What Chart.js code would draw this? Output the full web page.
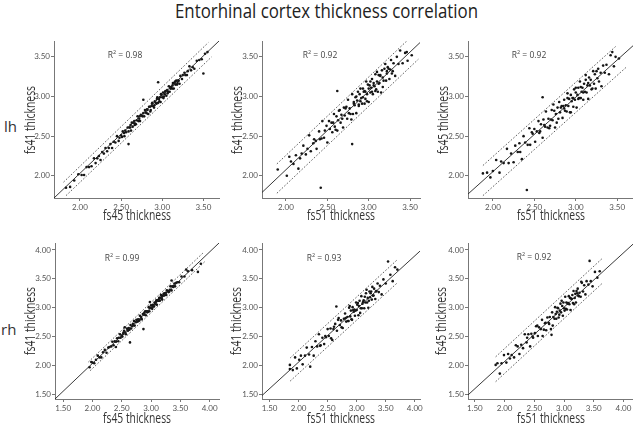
<!DOCTYPE html>
<html><head><meta charset="utf-8">
<script src="https://cdn.jsdelivr.net/npm/chart.js@4/dist/chart.umd.min.js"></script>
<style>
html,body{margin:0;padding:0;background:#fff;overflow:hidden;width:633px;height:426px;}
#wrap{position:relative;width:633px;height:426px;overflow:hidden;}
canvas{position:absolute;}
.txt{position:absolute;font-family:"Open Sans",sans-serif;color:#333;white-space:nowrap;line-height:1;}
.r2{font-size:8.5px;transform:translate(-50%,-50%);color:#444;}
.r2 sup{font-size:5.5px;vertical-align:top;position:relative;top:-1px;}
.ax{font-size:14px;color:#333;}
</style></head><body><div id="wrap">
<span id="title" class="txt" style="top:1px;font-size:19.5px;color:#222;transform-origin:0 0;">Entorhinal cortex thickness correlation</span>
<span class="txt" style="left:4px;top:119px;font-size:15px;">lh</span>
<span class="txt" style="left:1px;top:322px;font-size:15px;">rh</span>
</div>
<script>
// ---- data ----
const xTitles = ['fs45 thickness', 'fs51 thickness', 'fs51 thickness', 'fs45 thickness', 'fs51 thickness', 'fs51 thickness'];
const yTitles = ['fs41 thickness', 'fs41 thickness', 'fs45 thickness', 'fs41 thickness', 'fs41 thickness', 'fs45 thickness'];
const rSquared = ['0.98', '0.92', '0.92', '0.99', '0.93', '0.92'];

const lhFs45VsFs41 = [[1.83,1.85],[1.88,1.86],[1.93,1.94],[1.98,2.02],[2.02,2.01],[2.05,2.01],[2.08,2.11],[2.11,2.11],[2.14,2.12],[2.17,2.22],[2.19,2.16],[2.21,2.22],[2.23,2.25],[2.25,2.20],[2.27,2.30],[2.29,2.28],[2.31,2.35],[2.33,2.31],[2.35,2.35],[2.37,2.40],[2.39,2.35],[2.41,2.43],[2.43,2.42],[2.45,2.50],[2.47,2.44],[2.48,2.48],[2.50,2.51],[2.51,2.49],[2.52,2.56],[2.54,2.50],[2.55,2.57],[2.56,2.55],[2.58,2.61],[2.59,2.56],[2.60,2.61],[2.61,2.61],[2.62,2.57],[2.63,2.67],[2.64,2.62],[2.65,2.67],[2.66,2.69],[2.67,2.66],[2.68,2.65],[2.69,2.70],[2.70,2.75],[2.71,2.69],[2.72,2.72],[2.73,2.69],[2.74,2.77],[2.75,2.76],[2.76,2.75],[2.77,2.79],[2.78,2.75],[2.79,2.83],[2.80,2.80],[2.81,2.79],[2.82,2.83],[2.83,2.78],[2.84,2.87],[2.85,2.87],[2.86,2.83],[2.87,2.88],[2.88,2.92],[2.89,2.88],[2.90,2.86],[2.91,2.94],[2.92,2.92],[2.93,2.91],[2.94,2.99],[2.95,2.92],[2.96,2.97],[2.97,2.99],[2.98,2.93],[2.99,3.02],[3.00,2.99],[3.01,3.05],[3.02,3.00],[3.03,3.03],[3.04,3.07],[3.05,3.01],[3.06,3.08],[3.07,3.06],[3.08,3.13],[3.09,3.06],[3.10,3.10],[3.11,3.12],[3.12,3.10],[3.13,3.17],[3.14,3.10],[3.15,3.17],[3.16,3.15],[3.17,3.20],[3.18,3.15],[3.19,3.20],[3.20,3.20],[3.21,3.16],[3.22,3.26],[3.24,3.22],[3.25,3.27],[3.27,3.30],[3.28,3.27],[3.30,3.27],[3.31,3.32],[3.33,3.38],[3.35,3.33],[3.37,3.37],[3.39,3.35],[3.42,3.45],[3.45,3.46],[3.48,3.47],[3.52,3.54],[3.55,3.56],[2.59,2.40],[2.77,2.96],[2.95,3.18],[3.50,3.29],[2.815,2.84],[2.855,2.81],[2.875,2.91],[2.905,2.89],[2.935,2.97],[2.965,2.94],[2.985,3.03],[3.015,2.98],[3.035,3.06],[3.065,3.04],[3.095,3.12],[3.125,3.14],[3.155,3.19],[3.185,3.17],[2.725,2.75],[2.665,2.64],[2.615,2.64],[2.535,2.54]];
const lhFs51VsFs41 = [[1.90,2.08],[2.01,2.00],[2.04,2.24],[2.09,2.15],[2.12,2.26],[2.15,2.09],[2.19,2.28],[2.21,2.38],[2.24,2.27],[2.28,2.51],[2.30,2.31],[2.33,2.41],[2.34,2.46],[2.37,2.34],[2.40,2.56],[2.41,2.46],[2.44,2.69],[2.46,2.48],[2.47,2.57],[2.50,2.42],[2.52,2.69],[2.53,2.59],[2.55,2.67],[2.56,2.55],[2.58,2.78],[2.59,2.62],[2.61,2.75],[2.62,2.57],[2.63,2.70],[2.65,2.83],[2.66,2.67],[2.67,2.77],[2.69,2.61],[2.70,2.86],[2.71,2.76],[2.72,2.85],[2.74,2.72],[2.75,2.96],[2.76,2.79],[2.77,2.85],[2.78,2.78],[2.80,3.03],[2.81,2.78],[2.82,2.93],[2.83,2.89],[2.84,2.99],[2.85,2.79],[2.86,2.95],[2.87,3.06],[2.88,2.90],[2.89,3.03],[2.90,2.94],[2.91,2.98],[2.92,2.91],[2.93,3.10],[2.94,3.06],[2.95,2.91],[2.96,3.06],[2.96,2.97],[2.97,3.19],[2.98,3.03],[2.99,3.15],[3.00,2.93],[3.01,3.14],[3.02,3.05],[3.03,3.11],[3.04,3.22],[3.05,3.03],[3.06,3.17],[3.07,3.13],[3.08,3.28],[3.09,3.09],[3.10,3.19],[3.11,3.06],[3.12,3.27],[3.13,3.17],[3.14,3.27],[3.15,3.05],[3.16,3.33],[3.17,3.24],[3.18,3.20],[3.20,3.41],[3.21,3.20],[3.22,3.32],[3.23,3.37],[3.25,3.22],[3.26,3.34],[3.27,3.46],[3.29,3.32],[3.30,3.42],[3.32,3.26],[3.34,3.50],[3.36,3.41],[3.38,3.58],[3.41,3.42],[3.44,3.55],[3.47,3.45],[3.52,3.52],[2.42,1.85],[2.80,2.40],[2.62,3.07],[3.46,3.56],[2.64,2.82],[2.68,2.72],[2.73,2.87],[2.79,2.71],[2.82,2.91],[2.85,3.00],[2.88,2.88],[2.90,3.10],[2.93,2.99],[2.95,3.07],[2.98,2.94],[3.00,3.10],[3.02,3.19],[3.04,3.06],[3.06,3.14],[3.08,3.07],[3.10,3.31],[3.12,3.16],[3.14,3.26],[3.17,3.12],[3.19,3.35],[3.22,3.29],[3.24,3.35],[3.28,3.29],[2.57,2.67],[2.60,2.58],[2.49,2.63],[2.43,2.47],[2.36,2.44],[2.26,2.34],[2.17,2.22],[2.06,2.18]];
const lhFs51VsFs45 = [[1.88,2.03],[1.93,2.04],[1.97,1.98],[2.00,2.06],[2.04,2.20],[2.08,2.04],[2.10,2.18],[2.13,2.16],[2.17,2.34],[2.19,2.16],[2.22,2.28],[2.25,2.17],[2.27,2.38],[2.30,2.30],[2.32,2.41],[2.35,2.21],[2.37,2.50],[2.39,2.42],[2.42,2.39],[2.44,2.60],[2.45,2.39],[2.48,2.53],[2.50,2.59],[2.51,2.43],[2.53,2.56],[2.55,2.69],[2.56,2.54],[2.58,2.65],[2.60,2.48],[2.61,2.71],[2.63,2.62],[2.64,2.81],[2.66,2.61],[2.67,2.72],[2.68,2.60],[2.70,2.71],[2.71,2.83],[2.72,2.70],[2.74,2.82],[2.75,2.61],[2.76,2.78],[2.78,2.86],[2.79,2.72],[2.80,2.93],[2.81,2.80],[2.83,2.88],[2.84,2.73],[2.85,2.88],[2.86,2.96],[2.87,2.82],[2.88,2.89],[2.89,2.81],[2.90,3.04],[2.91,2.88],[2.92,2.97],[2.93,2.80],[2.94,3.02],[2.95,2.94],[2.96,2.98],[2.97,2.87],[2.98,3.09],[2.99,2.96],[3.00,3.05],[3.01,2.86],[3.02,3.02],[3.03,3.11],[3.04,2.98],[3.05,3.19],[3.06,2.98],[3.07,3.06],[3.08,3.11],[3.09,2.96],[3.10,3.16],[3.11,3.06],[3.12,3.27],[3.13,3.05],[3.14,3.14],[3.15,2.97],[3.16,3.24],[3.17,3.14],[3.18,3.21],[3.19,3.09],[3.21,3.32],[3.22,3.16],[3.23,3.28],[3.24,3.10],[3.26,3.23],[3.27,3.35],[3.28,3.19],[3.30,3.30],[3.31,3.13],[3.33,3.39],[3.35,3.30],[3.37,3.40],[3.40,3.28],[3.42,3.52],[3.46,3.38],[3.48,3.50],[3.52,3.48],[2.41,1.82],[2.60,2.99],[3.44,3.56],[2.62,2.64],[2.69,2.63],[2.73,2.90],[2.77,2.67],[2.82,2.86],[2.86,2.85],[2.90,2.98],[2.94,2.80],[2.97,2.98],[3.00,3.11],[3.03,2.97],[3.06,3.12],[3.09,3.05],[3.12,3.21],[3.15,3.17],[3.20,3.10],[3.25,3.32],[2.57,2.56],[2.47,2.55],[2.33,2.30]];
const rhFs45VsFs41 = [[1.95,1.97],[1.98,2.06],[2.00,2.05],[2.03,2.04],[2.06,2.10],[2.09,2.17],[2.12,2.14],[2.15,2.14],[2.18,2.23],[2.21,2.27],[2.24,2.22],[2.27,2.31],[2.29,2.32],[2.32,2.33],[2.34,2.41],[2.36,2.35],[2.38,2.42],[2.40,2.41],[2.42,2.47],[2.44,2.42],[2.45,2.48],[2.47,2.54],[2.48,2.48],[2.50,2.52],[2.51,2.50],[2.53,2.57],[2.54,2.60],[2.56,2.57],[2.57,2.54],[2.59,2.64],[2.60,2.62],[2.62,2.65],[2.63,2.62],[2.65,2.70],[2.66,2.64],[2.68,2.68],[2.69,2.72],[2.71,2.77],[2.72,2.69],[2.74,2.75],[2.75,2.79],[2.77,2.76],[2.78,2.80],[2.80,2.78],[2.81,2.86],[2.83,2.84],[2.84,2.80],[2.86,2.89],[2.87,2.89],[2.88,2.88],[2.90,2.94],[2.91,2.87],[2.92,2.94],[2.94,2.94],[2.95,2.93],[2.96,3.01],[2.97,2.94],[2.98,2.99],[3.00,3.04],[3.01,3.00],[3.02,2.98],[3.03,3.05],[3.04,3.04],[3.05,3.02],[3.06,3.09],[3.07,3.08],[3.08,3.06],[3.09,3.13],[3.10,3.05],[3.11,3.13],[3.12,3.12],[3.13,3.12],[3.14,3.17],[3.15,3.12],[3.16,3.17],[3.17,3.22],[3.18,3.16],[3.19,3.14],[3.20,3.21],[3.22,3.21],[3.23,3.25],[3.24,3.22],[3.26,3.22],[3.27,3.30],[3.29,3.29],[3.30,3.27],[3.32,3.31],[3.33,3.37],[3.35,3.30],[3.36,3.37],[3.38,3.36],[3.40,3.42],[3.41,3.37],[3.43,3.43],[3.45,3.44],[3.48,3.44],[3.52,3.54],[3.57,3.54],[3.63,3.63],[3.70,3.65],[2.64,2.40],[2.87,2.63],[3.80,3.62],[3.85,3.76],[2.55,2.66],[2.98,3.10],[3.35,3.47],[2.40,2.32],[3.60,3.66],[2.985,3.00],[3.035,3.02],[3.085,3.10],[3.135,3.15],[3.185,3.19],[3.215,3.24],[3.255,3.26],[2.935,2.92],[2.885,2.91],[2.835,2.81],[2.785,2.77],[2.695,2.70],[2.605,2.60],[2.525,2.55],[3.31,3.28],[3.39,3.38]];
const rhFs51VsFs41 = [[1.85,2.01],[1.85,1.94],[1.90,1.92],[1.94,2.14],[1.97,1.95],[2.01,2.10],[2.04,2.17],[2.07,2.02],[2.11,2.17],[2.14,2.31],[2.18,2.19],[2.23,2.32],[2.26,2.17],[2.29,2.42],[2.32,2.33],[2.35,2.54],[2.38,2.35],[2.41,2.48],[2.44,2.37],[2.47,2.49],[2.50,2.63],[2.52,2.51],[2.55,2.64],[2.58,2.44],[2.60,2.63],[2.63,2.72],[2.66,2.60],[2.69,2.82],[2.71,2.70],[2.73,2.78],[2.76,2.65],[2.78,2.81],[2.80,2.90],[2.82,2.76],[2.84,2.84],[2.86,2.77],[2.87,3.00],[2.89,2.85],[2.90,2.95],[2.92,2.79],[2.93,3.01],[2.95,2.93],[2.96,2.97],[2.97,2.86],[2.99,3.09],[3.00,2.96],[3.01,3.05],[3.03,2.87],[3.04,3.03],[3.05,3.12],[3.07,2.99],[3.08,3.20],[3.09,2.99],[3.10,3.07],[3.12,3.13],[3.13,2.99],[3.14,3.19],[3.15,3.09],[3.17,3.31],[3.18,3.09],[3.19,3.17],[3.20,3.00],[3.22,3.28],[3.23,3.18],[3.24,3.25],[3.26,3.14],[3.27,3.36],[3.29,3.21],[3.30,3.33],[3.32,3.15],[3.34,3.29],[3.36,3.42],[3.38,3.27],[3.40,3.38],[3.43,3.23],[3.46,3.49],[3.50,3.42],[3.58,3.57],[3.62,3.46],[3.66,3.70],[3.70,3.66],[2.20,1.98],[2.65,3.02],[3.54,3.80],[2.81,2.82],[2.85,2.77],[2.88,3.03],[2.91,2.80],[2.94,2.96],[2.98,2.95],[3.02,3.08],[3.06,2.91],[3.11,3.10],[3.16,3.25],[3.21,3.12],[3.25,3.28],[3.28,3.21],[3.33,3.28],[2.74,2.66],[2.68,2.79],[2.61,2.67],[2.56,2.47],[2.46,2.51],[2.37,2.34]];
const rhFs51VsFs45 = [[1.85,2.01],[1.88,2.04],[1.92,1.86],[1.95,2.04],[1.99,2.18],[2.03,2.05],[2.06,2.20],[2.09,2.12],[2.12,2.18],[2.16,2.14],[2.19,2.35],[2.22,2.33],[2.25,2.20],[2.28,2.36],[2.31,2.30],[2.34,2.54],[2.37,2.40],[2.40,2.54],[2.43,2.33],[2.45,2.55],[2.48,2.48],[2.51,2.56],[2.53,2.68],[2.56,2.51],[2.58,2.66],[2.61,2.63],[2.63,2.79],[2.66,2.62],[2.68,2.73],[2.70,2.61],[2.72,2.83],[2.74,2.74],[2.76,2.84],[2.78,2.63],[2.80,2.92],[2.82,2.84],[2.84,2.81],[2.85,3.01],[2.87,2.81],[2.88,2.93],[2.90,2.99],[2.91,2.83],[2.93,2.95],[2.94,3.07],[2.95,2.92],[2.97,3.03],[2.98,2.86],[2.99,3.09],[3.00,2.99],[3.02,3.19],[3.03,2.98],[3.04,3.09],[3.05,2.97],[3.07,3.08],[3.08,3.20],[3.09,3.06],[3.10,3.17],[3.11,2.96],[3.13,3.15],[3.14,3.22],[3.15,3.08],[3.16,3.29],[3.18,3.17],[3.19,3.24],[3.20,3.09],[3.22,3.25],[3.23,3.33],[3.25,3.20],[3.26,3.26],[3.28,3.19],[3.30,3.43],[3.32,3.28],[3.34,3.39],[3.36,3.23],[3.38,3.46],[3.41,3.40],[3.45,3.46],[3.48,3.37],[3.52,3.62],[3.56,3.52],[3.60,3.63],[2.79,2.53],[3.43,3.81],[2.81,2.69],[2.86,2.89],[2.89,3.00],[2.92,2.88],[2.96,3.12],[3.01,2.95],[3.06,3.07],[3.12,3.16],[3.17,3.06],[3.21,3.29],[3.24,3.21],[3.29,3.45],[2.75,2.72],[2.69,2.74],[2.64,2.51],[2.55,2.69],[2.47,2.50],[2.38,2.48]];

// fit lines and interval lines: [[x0,y0],[x1,y1]]
const fitLines = [
  [[1.684,1.72],[3.69,3.70]],
  [[1.71,1.79],[3.62,3.68]],
  [[1.70,1.77],[3.69,3.64]],
  [[1.36,1.42],[4.16,4.12]],
  [[1.37,1.48],[4.09,3.98]],
  [[1.385,1.49],[4.16,4.10]]
];
const upperLines = [
  [[1.80,1.92],[3.56,3.68]],
  [[1.89,2.15],[3.46,3.70]],
  [[1.88,2.13],[3.48,3.63]],
  [[1.93,2.06],[3.90,3.96]],
  [[1.855,2.13],[3.71,3.84]],
  [[1.85,2.15],[3.64,3.85]]
];
const lowerLines = [
  [[1.83,1.75],[3.60,3.50]],
  [[1.89,1.78],[3.60,3.47]],
  [[1.88,1.75],[3.62,3.38]],
  [[1.96,1.91],[3.92,3.80]],
  [[1.855,1.73],[3.71,3.44]],
  [[1.85,1.72],[3.64,3.42]]
];
const xRanges = [[1.684,3.69],[1.71,3.62],[1.70,3.69],[1.36,4.16],[1.37,4.09],[1.385,4.16]];
const yRanges = [[1.72,3.70],[1.72,3.70],[1.72,3.70],[1.42,4.12],[1.42,4.12],[1.42,4.12]];
const scatterSets = [lhFs45VsFs41, lhFs51VsFs41, lhFs51VsFs45, rhFs45VsFs41, rhFs51VsFs41, rhFs51VsFs45];

// ---- layout (pixels) ----
const layout = [
  {axisX:54,  right:219, top:41,  bottom:198, yTitleCx:30,  xTitleCy:215, r2:[125,55]},
  {axisX:262, right:420, top:41,  bottom:198, yTitleCx:237, xTitleCy:215, r2:[320,55]},
  {axisX:468, right:633, top:41,  bottom:198, yTitleCx:443, xTitleCy:215, r2:[529,55]},
  {axisX:55,  right:219, top:243, bottom:399, yTitleCx:30,  xTitleCy:418, r2:[122,258]},
  {axisX:262, right:420, top:243, bottom:399, yTitleCx:236, xTitleCy:418, r2:[324,258]},
  {axisX:468, right:633, top:243, bottom:399, yTitleCx:441, xTitleCy:418, r2:[534,257]}
];

const FAM = "Lato, 'Open Sans', sans-serif";
const YAXW = 30, XAXH = 22, PADTOP = 7, PADRIGHT = 8;
const TITLE_W = 68;
const toPts = arr => arr.map(p => ({x: p[0], y: p[1]}));
const wrap = document.getElementById('wrap');

function addAxisTitle(text, cx, cy, vertical) {
  const s = document.createElement('span');
  s.className = 'txt ax';
  s.textContent = text;
  wrap.appendChild(s);
  const w = s.getBoundingClientRect().width;
  const k = TITLE_W / w;
  s.style.left = cx + 'px';
  s.style.top = cy + 'px';
  s.style.transform = 'translate(-50%,-50%)' + (vertical ? ' rotate(-90deg)' : '') + ' scaleX(' + k + ')';
}

scatterSets.forEach((pts, i) => {
  const L = layout[i];
  const cLeft = L.axisX - YAXW;
  const cTop = L.top - PADTOP;
  const w = L.right + PADRIGHT - cLeft;
  const h = L.bottom + XAXH - cTop;
  const cv = document.createElement('canvas');
  cv.width = w; cv.height = h;
  cv.style.left = cLeft + 'px'; cv.style.top = cTop + 'px';
  cv.style.width = w + 'px'; cv.style.height = h + 'px';
  wrap.appendChild(cv);

  const axisCommon = {
    type: 'linear',
    border: {display: true, color: '#777', width: 1},
    grid: {display: true, drawOnChartArea: false, drawTicks: true, tickLength: 3, color: '#777'},
    ticks: {stepSize: 0.5, includeBounds: false, autoSkip: false, maxRotation: 0,
            font: {family: FAM, size: 8}, color: '#555', padding: 1,
            callback: v => Number(v).toFixed(2)},
    title: {display: false}
  };
  new Chart(cv, {
    type: 'scatter',
    data: {datasets: [
      {data: toPts(pts), pointRadius: 1.3, pointBackgroundColor: '#151515', pointBorderWidth: 0, showLine: false, order: 3},
      {data: toPts(fitLines[i]), showLine: true, pointRadius: 0, borderColor: '#222', borderWidth: 0.9, order: 1},
      {data: toPts(upperLines[i]), showLine: true, pointRadius: 0, borderColor: '#333', borderWidth: 0.8, borderDash: [1.6, 1.8], order: 2},
      {data: toPts(lowerLines[i]), showLine: true, pointRadius: 0, borderColor: '#333', borderWidth: 0.8, borderDash: [1.6, 1.8], order: 2}
    ]},
    options: {
      responsive: false, animation: false, devicePixelRatio: 1,
      layout: {padding: {top: PADTOP, right: PADRIGHT, bottom: 0, left: 0}},
      plugins: {legend: {display: false}, tooltip: {enabled: false}},
      scales: {
        x: Object.assign({}, axisCommon, {
          position: 'bottom', min: xRanges[i][0], max: xRanges[i][1],
          ticks: Object.assign({}, axisCommon.ticks, {padding: 2}),
          afterFit: s => { s.height = XAXH; }
        }),
        y: Object.assign({}, axisCommon, {
          position: 'left', min: yRanges[i][0], max: yRanges[i][1],
          afterFit: s => { s.width = YAXW; }
        })
      }
    }
  });

  addAxisTitle(xTitles[i], (L.axisX + L.right) / 2, L.xTitleCy, false);
  addAxisTitle(yTitles[i], L.yTitleCx, (L.top + L.bottom) / 2, true);

  const r = document.createElement('span');
  r.className = 'txt r2';
  r.style.left = L.r2[0] + 'px'; r.style.top = L.r2[1] + 'px';
  r.innerHTML = 'R<sup>2</sup> = ' + rSquared[i];
  wrap.appendChild(r);
});

// title: fit to measured width in the reference
const t = document.getElementById('title');
const tw = t.getBoundingClientRect().width;
t.style.transform = 'scaleX(' + (303 / tw) + ')';
t.style.left = (326.5 - 303 / 2) + 'px';
</script>
</body></html>
